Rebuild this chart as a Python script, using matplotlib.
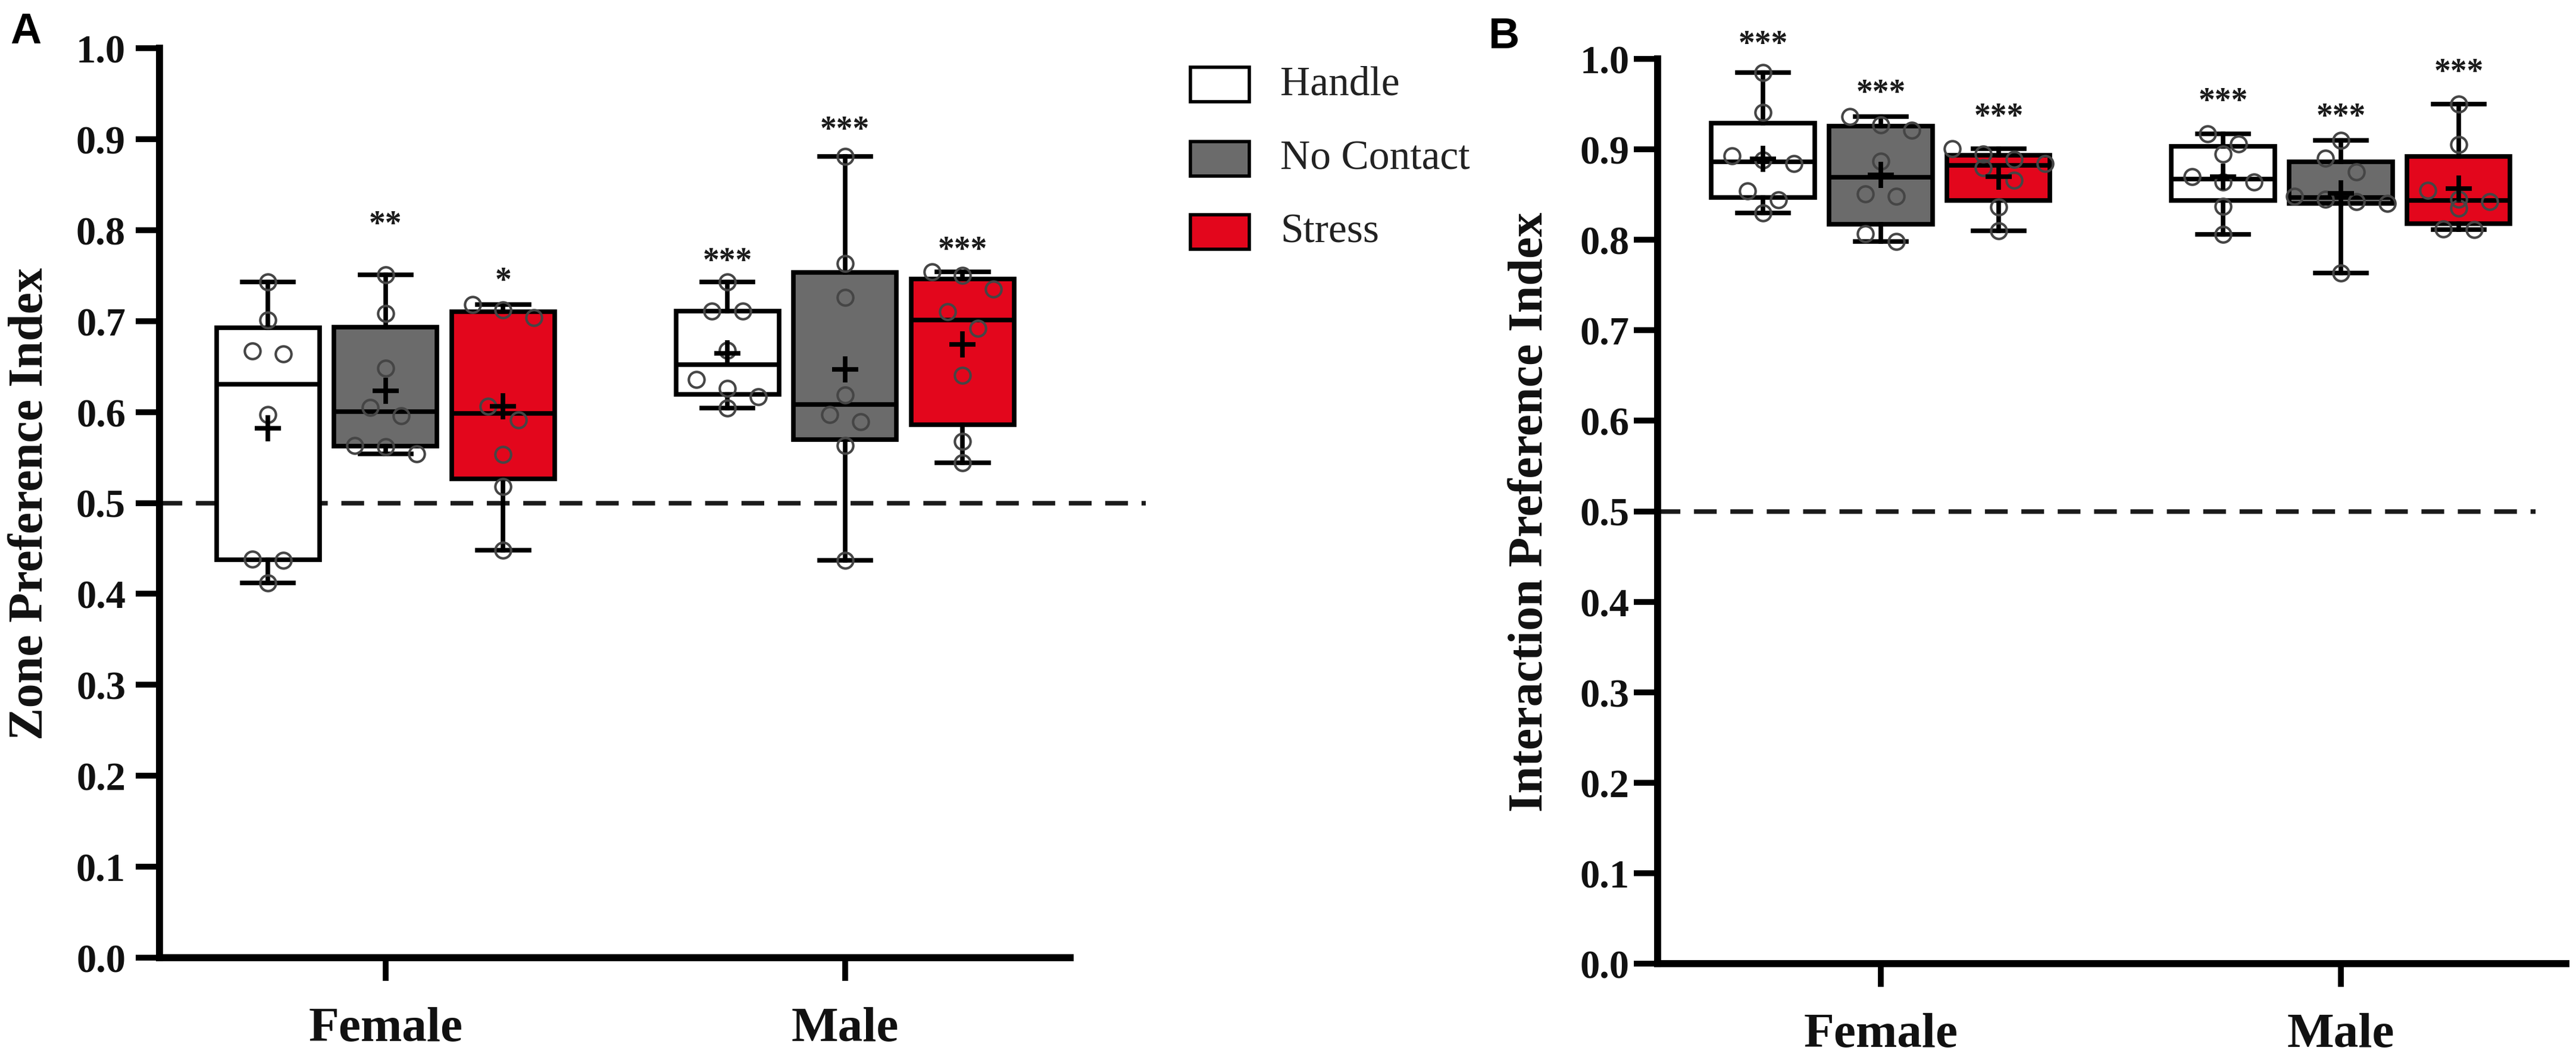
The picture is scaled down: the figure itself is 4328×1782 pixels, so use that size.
import numpy as np
import matplotlib
matplotlib.use("Agg")
import matplotlib.pyplot as plt
from matplotlib.patches import Rectangle

# ---------------------------------------------------------------- data
sexes = ["Female", "Male"]
groups = ["Handle", "No Contact", "Stress"]

# panel A: zone preference index (8 animals per box)
zone_female_handle = [0.743, 0.701, 0.667, 0.664, 0.597, 0.438, 0.437, 0.412]
zone_female_nocontact = [0.751, 0.708, 0.648, 0.605, 0.596, 0.563, 0.562, 0.554]
zone_female_stress = [0.718, 0.712, 0.704, 0.606, 0.591, 0.553, 0.518, 0.448]
zone_male_handle = [0.743, 0.711, 0.711, 0.668, 0.636, 0.626, 0.617, 0.604]
zone_male_nocontact = [0.881, 0.763, 0.726, 0.619, 0.597, 0.589, 0.563, 0.437]
zone_male_stress = [0.754, 0.750, 0.735, 0.710, 0.692, 0.640, 0.568, 0.544]

# panel B: interaction preference index
inter_female_handle = [0.985, 0.941, 0.893, 0.888, 0.884, 0.854, 0.844, 0.830]
inter_female_nocontact = [0.936, 0.927, 0.921, 0.887, 0.851, 0.848, 0.807, 0.798]
inter_female_stress = [0.901, 0.895, 0.889, 0.884, 0.880, 0.866, 0.836, 0.810]
inter_male_handle = [0.917, 0.906, 0.895, 0.870, 0.864, 0.864, 0.837, 0.806]
inter_male_nocontact = [0.910, 0.890, 0.875, 0.848, 0.845, 0.842, 0.840, 0.763]
inter_male_stress = [0.950, 0.905, 0.855, 0.845, 0.842, 0.835, 0.812, 0.811]

# significance marks vs 0.5 and the height they are printed at
zone_sig = [["", "**", "*"], ["***", "***", "***"]]
zone_sig_y = [[0.0, 0.814, 0.752], [0.773, 0.918, 0.786]]
inter_sig = [["***", "***", "***"], ["***", "***", "***"]]
inter_sig_y = [[1.024, 0.970, 0.944], [0.9605, 0.944, 0.993]]

chance_level = 0.5
yticks = np.round(np.arange(0, 1.01, 0.1), 1)

# ---------------------------------------------------------------- style
W, H = 4328, 1783
box_colors = ["white", "#6b6b6b", "#e3061c"]
SERIF = "Liberation Serif"
offset = 0.256
box_w = 0.224
LW = 5.5


def box_stats(vals):
    v = np.asarray(vals)
    q1, med, q3 = np.percentile(v, [25, 50, 75], method="weibull")
    return dict(med=med, q1=q1, q3=q3, whislo=v.min(), whishi=v.max(),
                mean=v.mean(), fliers=[])


def swarm_offsets(vals, step=0.067, tol=0.02):
    # spread points of similar value side by side
    vals = np.asarray(vals)
    offs = np.zeros(len(vals))
    order = np.argsort(vals)[::-1]
    rows = []
    for k in order:
        if rows and vals[rows[-1][0]] - vals[k] <= tol:
            rows[-1].append(k)
        else:
            rows.append([k])
    for row in rows:
        n = len(row)
        for i, k in enumerate(row):
            offs[k] = (i - (n - 1) / 2) * step
    return offs


def draw_panel(ax, data, sig, sig_y, ylabel, xlim, dash_end, label_x, ypad):
    for si in range(len(sexes)):
        for gi in range(len(groups)):
            vals = data[si][gi]
            pos = si + (gi - 1) * offset
            ax.bxp([box_stats(vals)], positions=[pos], widths=box_w,
                   capwidths=box_w / 2, patch_artist=True, showmeans=True,
                   showfliers=False,
                   boxprops=dict(facecolor=box_colors[gi], edgecolor="black", linewidth=LW),
                   medianprops=dict(color="black", linewidth=LW),
                   whiskerprops=dict(color="black", linewidth=LW),
                   capprops=dict(color="black", linewidth=LW),
                   meanprops=dict(marker="+", markersize=32, markeredgewidth=5.5,
                                  markeredgecolor="black", zorder=5),
                   zorder=2)
            ax.plot(pos + swarm_offsets(vals), vals, "o", ms=19, mfc="none",
                    mec="#454545", mew=3, zorder=4)
            if sig[si][gi]:
                ax.annotate(sig[si][gi], xy=(pos, sig_y[si][gi]), xytext=(0, -19),
                            textcoords="offset points", ha="center", va="baseline",
                            fontsize=40, fontweight="bold", family=SERIF,
                            color="#1a1a1a", annotation_clip=False)

    ax.plot([xlim[0], dash_end], [chance_level, chance_level], color="#1a1a1a",
            lw=5.5, dashes=(5, 3), clip_on=False, zorder=1)

    ax.set_xlim(*xlim)
    ax.set_ylim(0, 1)
    ax.set_yticks(yticks)
    ax.set_yticklabels(["%.1f" % t for t in yticks])
    ax.set_xticks(range(len(sexes)))
    ax.set_xticklabels(sexes)
    for side in ["top", "right"]:
        ax.spines[side].set_visible(False)
    for side in ["left", "bottom"]:
        ax.spines[side].set_linewidth(8.5)
    ax.tick_params(axis="y", length=29, width=7, pad=ypad, labelsize=48)
    ax.tick_params(axis="x", length=28, width=7, pad=31, labelsize=60)
    for lab in ax.get_xticklabels() + ax.get_yticklabels():
        lab.set_fontfamily(SERIF)
        lab.set_fontweight("bold")
        lab.set_color("#111111")
    ax.set_ylabel(ylabel, fontsize=59, fontweight="bold", family=SERIF,
                  va="center", color="#111111")
    ax.yaxis.set_label_coords(label_x, 0.5)


fig = plt.figure(figsize=(W / 100, H / 100), dpi=100)
axA = fig.add_axes([268 / W, 1 - 1611 / H, 1530 / W, 1529 / H])
axB = fig.add_axes([2785 / W, 1 - 1621 / H, 1526 / W, 1521 / H])

zone_data = [[zone_female_handle, zone_female_nocontact, zone_female_stress],
             [zone_male_handle, zone_male_nocontact, zone_male_stress]]
inter_data = [[inter_female_handle, inter_female_nocontact, inter_female_stress],
              [inter_male_handle, inter_male_nocontact, inter_male_stress]]

draw_panel(axA, zone_data, zone_sig, zone_sig_y, "Zone Preference Index",
           (-0.492, 1.490), 1.655, -0.1418, 12)
draw_panel(axB, inter_data, inter_sig, inter_sig_y, "Interaction Preference Index",
           (-0.485, 1.489), 1.423, -0.1396, 5)

# legend between the panels
for gi, name in enumerate(groups):
    cy = [143, 268, 391][gi]
    fig.patches.append(Rectangle((2000 / W, 1 - (cy + 29) / H), 99 / W, 58 / H,
                                 transform=fig.transFigure, facecolor=box_colors[gi],
                                 edgecolor="black", linewidth=4))
    fig.text(2151 / W, 1 - cy / H, name, fontsize=50, family=SERIF,
             color="#222222", va="center", ha="left")

fig.text(17 / W, 1 - 20 / H, "A", fontsize=52, fontweight="bold",
         family="Liberation Sans", va="top", ha="left")
fig.text(2500 / W, 1 - 28 / H, "B", fontsize=52, fontweight="bold",
         family="Liberation Sans", va="top", ha="left")

fig.savefig("out.png", dpi=100)
